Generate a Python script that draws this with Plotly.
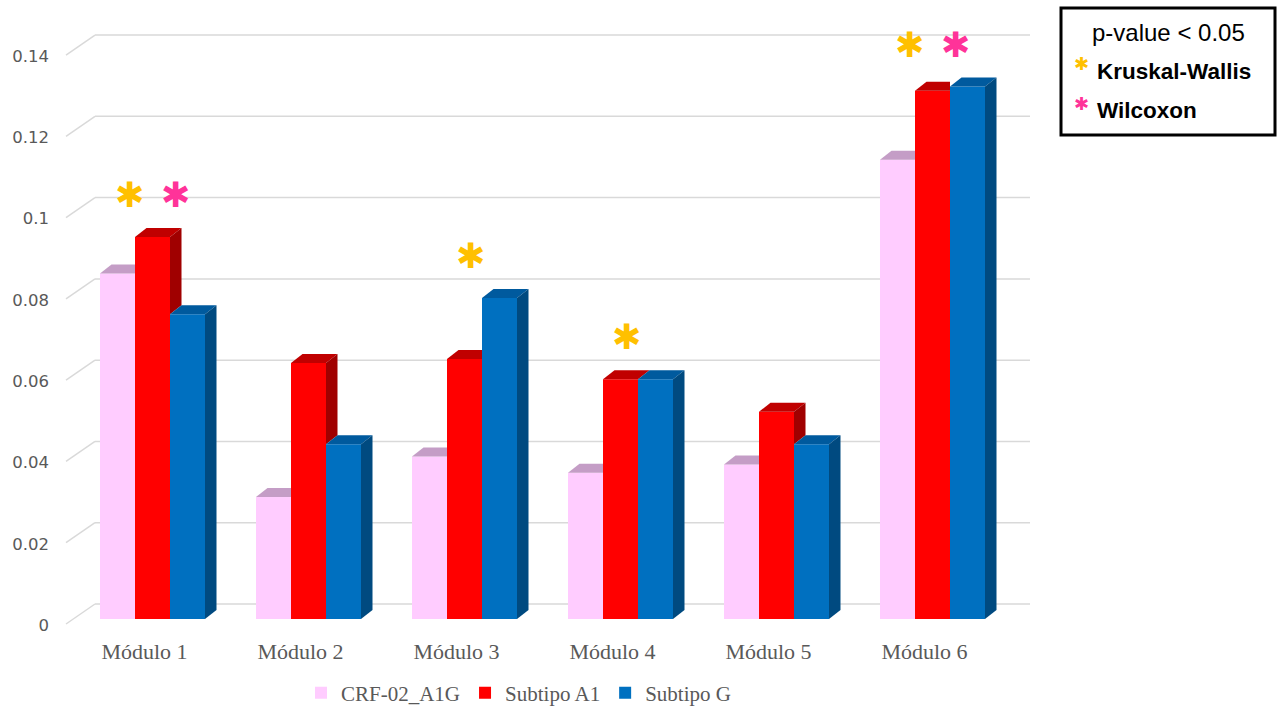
import plotly.graph_objects as go

# ---- data ----
modules = ["Módulo 1", "Módulo 2", "Módulo 3", "Módulo 4", "Módulo 5", "Módulo 6"]
series_names = ["CRF-02_A1G", "Subtipo A1", "Subtipo G"]
crf02_a1g = [0.085, 0.030, 0.040, 0.036, 0.038, 0.113]
subtipo_a1 = [0.094, 0.063, 0.064, 0.059, 0.051, 0.130]
subtipo_g = [0.075, 0.043, 0.079, 0.059, 0.043, 0.131]
y_ticks = [0, 0.02, 0.04, 0.06, 0.08, 0.10, 0.12, 0.14]
y_tick_labels = ["0", "0.02", "0.04", "0.06", "0.08", "0.1", "0.12", "0.14"]
# significant tests per module (index into modules)
kruskal_wallis = [0, 2, 3, 5]
wilcoxon = [0, 5]

# ---- styling ----
front_colors = ["#FFCCFF", "#FF0000", "#0070C0"]
top_colors = ["#C49DC6", "#C00000", "#005A9E"]
side_colors = ["#B48CB6", "#A00000", "#004A80"]
grid_color = "#D9D9D9"
text_gray = "#595959"
star_colors = {"kw": "#FFC000", "wx": "#FF3399"}

W, H = 1279, 706
ML, MR, MT, MB = 95, 249, 30, 81
plot_w = W - ML - MR
plot_h = H - MT - MB

cat_px = 156.0            # pixels per category
first_center_px = 152.5   # pixel x of first category centre
y_px = 4064.0             # pixels per value unit
base_shift_px = 6         # bar base sits this far above the plot bottom

x_lo = (ML - first_center_px) / cat_px
x_hi = (ML + plot_w - first_center_px) / cat_px
y_lo = -base_shift_px / y_px
y_hi = y_lo + plot_h / y_px

bar_w = 35.0 / cat_px
depth_dx = 11.5 / cat_px
depth_dv = 9.0 / y_px
wall_dv = 15.0 / y_px      # back wall gridline lift
front_dv = -5.0 / y_px     # front edge of floor gridlines
front_x_paper = (66 - ML) / plot_w


def px_x(px):
    return (px - ML) / plot_w


def px_y(py):
    return (MT + plot_h - py) / plot_h


series = [crf02_a1g, subtipo_a1, subtipo_g]
fig = go.Figure()

for k, (name, vals) in enumerate(zip(series_names, series)):
    fig.add_trace(go.Bar(
        x=list(range(len(modules))), y=vals, name=name,
        width=bar_w, offset=(k - 1.5) * bar_w,
        marker=dict(color=front_colors[k], line=dict(width=0)),
    ))

shapes = []
# back wall gridlines with their floor diagonals
for v in y_ticks:
    shapes.append(dict(type="line", xref="paper", yref="y", layer="below",
                       x0=0, x1=1, y0=v + wall_dv, y1=v + wall_dv,
                       line=dict(color=grid_color, width=1.5)))
    shapes.append(dict(type="line", xref="paper", yref="y", layer="below",
                       x0=front_x_paper, x1=0, y0=v + front_dv, y1=v + wall_dv,
                       line=dict(color=grid_color, width=1.5)))


def poly(pts):
    return "M " + " L ".join(f"{x:.5f},{y:.6f}" for x, y in pts) + " Z"


# top and side faces of every column
for k, vals in enumerate(series):
    nxt = series[k + 1] if k + 1 < len(series) else None
    for i, v in enumerate(vals):
        x0 = i + (k - 1.5) * bar_w
        x1 = x0 + bar_w
        nv = nxt[i] if nxt is not None else None
        if nv is not None and nv > v:
            top = [(x0, v), (x0 + depth_dx, v + depth_dv), (x1, v + depth_dv), (x1, v)]
        else:
            top = [(x0, v), (x0 + depth_dx, v + depth_dv),
                   (x1 + depth_dx, v + depth_dv), (x1, v)]
        shapes.append(dict(type="path", xref="x", yref="y", path=poly(top),
                           fillcolor=top_colors[k], line=dict(width=0)))
        low = nv if nv is not None else 0
        if v > low:
            side = [(x1, v), (x1 + depth_dx, v + depth_dv),
                    (x1 + depth_dx, low + depth_dv), (x1, low)]
            shapes.append(dict(type="path", xref="x", yref="y", path=poly(side),
                               fillcolor=side_colors[k], line=dict(width=0)))

# significance key box
shapes.append(dict(type="rect", xref="paper", yref="paper",
                   x0=px_x(1061), x1=px_x(1275), y0=px_y(135), y1=px_y(8),
                   line=dict(color="black", width=3), fillcolor="white"))

annotations = []
# asterisks above significant modules
for i in range(len(modules)):
    top_v = max(s[i] for s in series)
    marks = [t for t, lst in (("kw", kruskal_wallis), ("wx", wilcoxon)) if i in lst]
    if len(marks) == 2:
        offs = {"kw": -0.15, "wx": 0.15}
    else:
        offs = {marks[0]: 0.04} if marks else {}
    for t in marks:
        annotations.append(dict(x=i + offs[t], y=top_v + 42 / y_px, xref="x", yref="y",
                                text="✱", showarrow=False,
                                font=dict(family="DejaVu Sans", size=35, color=star_colors[t]),
                                xanchor="center", yanchor="middle"))

annotations += [
    dict(x=px_x(1168), y=px_y(33), xref="paper", yref="paper", text="p-value < 0.05",
         showarrow=False, xanchor="center", yanchor="middle",
         font=dict(family="Liberation Sans", size=24, color="black")),
    dict(x=px_x(1081), y=px_y(63), xref="paper", yref="paper", text="✱",
         showarrow=False, xanchor="center", yanchor="middle",
         font=dict(family="DejaVu Sans", size=18, color=star_colors["kw"])),
    dict(x=px_x(1095), y=px_y(72), xref="paper", yref="paper", text="<b>Kruskal-Wallis</b>",
         showarrow=False, xanchor="left", yanchor="middle",
         font=dict(family="Liberation Sans", size=22.5, color="black")),
    dict(x=px_x(1081), y=px_y(103), xref="paper", yref="paper", text="✱",
         showarrow=False, xanchor="center", yanchor="middle",
         font=dict(family="DejaVu Sans", size=18, color=star_colors["wx"])),
    dict(x=px_x(1095), y=px_y(111), xref="paper", yref="paper", text="<b>Wilcoxon</b>",
         showarrow=False, xanchor="left", yanchor="middle",
         font=dict(family="Liberation Sans", size=22.5, color="black")),
]

fig.update_layout(
    width=W, height=H,
    margin=dict(l=ML, r=MR, t=MT, b=MB, pad=0, autoexpand=False),
    paper_bgcolor="white", plot_bgcolor="white",
    barmode="overlay",
    shapes=shapes, annotations=annotations,
    legend=dict(orientation="h", x=px_x(301), y=px_y(693), xanchor="left", yanchor="middle",
                font=dict(family="Liberation Serif", size=21, color=text_gray),
                itemwidth=30, traceorder="normal"),
    xaxis=dict(range=[x_lo, x_hi], tickvals=list(range(len(modules))), ticktext=modules,
               showgrid=False, zeroline=False, showline=False, ticks="",
               tickfont=dict(family="Liberation Serif", size=22, color=text_gray),
               ticklabelstandoff=11, ticklabelshift=-8),
    yaxis=dict(range=[y_lo, y_hi], tickvals=y_ticks, ticktext=y_tick_labels,
               showgrid=False, zeroline=False, showline=False, ticks="",
               tickfont=dict(family="DejaVu Sans", size=16.5, color=text_gray),
               ticklabelshift=6, ticklabelstandoff=45),
)

fig.write_html("out.html")
